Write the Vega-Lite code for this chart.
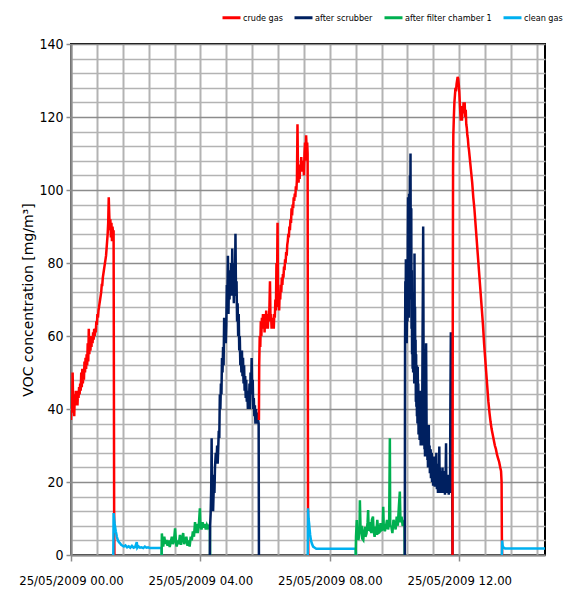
{
  "$schema": "https://vega.github.io/schema/vega-lite/v6.json",
  "width": 474,
  "height": 511,
  "autosize": {"type": "none"},
  "padding": {"left": 71, "top": 44, "right": 29, "bottom": 35},
  "background": "white",
  "config": {
    "view": {"stroke": "#000000", "strokeWidth": 2},
    "legend": {"padding": 0}
  },
  "data": {
    "values": [
      {"t":0,"s":"crude gas","g":1,"v":37},{"t":1,"s":"crude gas","g":1,"v":42},{"t":2,"s":"crude gas","g":1,"v":39},{"t":3,"s":"crude gas","g":1,"v":50},{"t":4,"s":"crude gas","g":1,"v":41},{"t":5,"s":"crude gas","g":1,"v":44},{"t":6,"s":"crude gas","g":1,"v":38},{"t":7,"s":"crude gas","g":1,"v":44},{"t":8,"s":"crude gas","g":1,"v":41},{"t":9,"s":"crude gas","g":1,"v":45},{"t":10,"s":"crude gas","g":1,"v":42},{"t":11,"s":"crude gas","g":1,"v":45},{"t":12,"s":"crude gas","g":1,"v":41},{"t":13,"s":"crude gas","g":1,"v":45},{"t":14,"s":"crude gas","g":1,"v":43},{"t":15,"s":"crude gas","g":1,"v":46},{"t":16,"s":"crude gas","g":1,"v":44},{"t":17,"s":"crude gas","g":1,"v":47},{"t":18,"s":"crude gas","g":1,"v":45},{"t":19,"s":"crude gas","g":1,"v":50},{"t":20,"s":"crude gas","g":1,"v":46},{"t":21,"s":"crude gas","g":1,"v":51},{"t":22,"s":"crude gas","g":1,"v":47},{"t":23,"s":"crude gas","g":1,"v":50},{"t":24,"s":"crude gas","g":1,"v":48},{"t":25,"s":"crude gas","g":1,"v":53},{"t":26,"s":"crude gas","g":1,"v":50},{"t":27,"s":"crude gas","g":1,"v":54},{"t":28,"s":"crude gas","g":1,"v":51},{"t":29,"s":"crude gas","g":1,"v":55},{"t":30,"s":"crude gas","g":1,"v":52},{"t":31,"s":"crude gas","g":1,"v":58},{"t":32,"s":"crude gas","g":1,"v":53},{"t":33,"s":"crude gas","g":1,"v":62},{"t":34,"s":"crude gas","g":1,"v":55},{"t":35,"s":"crude gas","g":1,"v":60},{"t":36,"s":"crude gas","g":1,"v":56},{"t":37,"s":"crude gas","g":1,"v":59},{"t":38,"s":"crude gas","g":1,"v":57},{"t":39,"s":"crude gas","g":1,"v":60},{"t":40,"s":"crude gas","g":1,"v":58},{"t":41,"s":"crude gas","g":1,"v":61},{"t":42,"s":"crude gas","g":1,"v":59},{"t":43,"s":"crude gas","g":1,"v":62},{"t":44,"s":"crude gas","g":1,"v":60},{"t":45,"s":"crude gas","g":1,"v":62},{"t":46,"s":"crude gas","g":1,"v":61},{"t":47,"s":"crude gas","g":1,"v":64},{"t":48,"s":"crude gas","g":1,"v":63},{"t":49,"s":"crude gas","g":1,"v":66},{"t":50,"s":"crude gas","g":1,"v":65},{"t":51,"s":"crude gas","g":1,"v":67},{"t":52,"s":"crude gas","g":1,"v":68},{"t":53,"s":"crude gas","g":1,"v":69},{"t":54,"s":"crude gas","g":1,"v":70},{"t":55,"s":"crude gas","g":1,"v":71},{"t":56,"s":"crude gas","g":1,"v":72},{"t":57,"s":"crude gas","g":1,"v":74},{"t":58,"s":"crude gas","g":1,"v":74},{"t":59,"s":"crude gas","g":1,"v":76},{"t":60,"s":"crude gas","g":1,"v":77},{"t":61,"s":"crude gas","g":1,"v":78},{"t":62,"s":"crude gas","g":1,"v":79},{"t":63,"s":"crude gas","g":1,"v":80},{"t":64,"s":"crude gas","g":1,"v":81},{"t":65,"s":"crude gas","g":1,"v":82},{"t":66,"s":"crude gas","g":1,"v":84},{"t":67,"s":"crude gas","g":1,"v":86},{"t":68,"s":"crude gas","g":1,"v":88},{"t":69,"s":"crude gas","g":1,"v":91},{"t":70,"s":"crude gas","g":1,"v":98},{"t":71,"s":"crude gas","g":1,"v":93},{"t":72,"s":"crude gas","g":1,"v":89},{"t":73,"s":"crude gas","g":1,"v":92},{"t":74,"s":"crude gas","g":1,"v":87},{"t":75,"s":"crude gas","g":1,"v":91},{"t":76,"s":"crude gas","g":1,"v":86},{"t":77,"s":"crude gas","g":1,"v":90},{"t":78,"s":"crude gas","g":1,"v":88},{"t":79,"s":"crude gas","g":1,"v":89},{"t":80,"s":"crude gas","g":1,"v":12},{"t":80.5,"s":"crude gas","g":1,"v":0},
      {"t":78.5,"s":"clean gas","g":2,"v":0},{"t":79,"s":"clean gas","g":2,"v":11.5},{"t":80,"s":"clean gas","g":2,"v":10},{"t":81,"s":"clean gas","g":2,"v":8.5},{"t":82,"s":"clean gas","g":2,"v":7.5},{"t":83,"s":"clean gas","g":2,"v":6.5},{"t":84,"s":"clean gas","g":2,"v":5.8},{"t":85,"s":"clean gas","g":2,"v":5},{"t":86,"s":"clean gas","g":2,"v":4.5},{"t":87,"s":"clean gas","g":2,"v":4},{"t":89,"s":"clean gas","g":2,"v":3.5},{"t":91,"s":"clean gas","g":2,"v":3.2},{"t":93,"s":"clean gas","g":2,"v":2.8},{"t":95,"s":"clean gas","g":2,"v":2.6},{"t":98,"s":"clean gas","g":2,"v":2.3},{"t":101,"s":"clean gas","g":2,"v":2.6},{"t":104,"s":"clean gas","g":2,"v":2.1},{"t":107,"s":"clean gas","g":2,"v":2.4},{"t":110,"s":"clean gas","g":2,"v":2},{"t":113,"s":"clean gas","g":2,"v":2.5},{"t":116,"s":"clean gas","g":2,"v":2},{"t":119,"s":"clean gas","g":2,"v":2.2},{"t":122,"s":"clean gas","g":2,"v":3.5},{"t":123,"s":"clean gas","g":2,"v":2},{"t":125,"s":"clean gas","g":2,"v":2.4},{"t":128,"s":"clean gas","g":2,"v":2},{"t":131,"s":"clean gas","g":2,"v":2.1},{"t":134,"s":"clean gas","g":2,"v":1.9},{"t":137,"s":"clean gas","g":2,"v":2.3},{"t":140,"s":"clean gas","g":2,"v":2},{"t":143,"s":"clean gas","g":2,"v":2.1},{"t":146,"s":"clean gas","g":2,"v":1.9},{"t":150,"s":"clean gas","g":2,"v":1.9},{"t":160,"s":"clean gas","g":2,"v":1.9},{"t":168,"s":"clean gas","g":2,"v":1.9},{"t":168.5,"s":"clean gas","g":2,"v":0},
      {"t":168,"s":"after filter chamber 1","g":3,"v":0},{"t":168.5,"s":"after filter chamber 1","g":3,"v":5.9},{"t":170,"s":"after filter chamber 1","g":3,"v":3},{"t":171,"s":"after filter chamber 1","g":3,"v":2.3},{"t":173,"s":"after filter chamber 1","g":3,"v":5},{"t":175,"s":"after filter chamber 1","g":3,"v":3},{"t":177,"s":"after filter chamber 1","g":3,"v":4.1},{"t":179,"s":"after filter chamber 1","g":3,"v":2.5},{"t":181,"s":"after filter chamber 1","g":3,"v":4},{"t":183,"s":"after filter chamber 1","g":3,"v":2.2},{"t":185,"s":"after filter chamber 1","g":3,"v":3.5},{"t":187,"s":"after filter chamber 1","g":3,"v":5},{"t":189,"s":"after filter chamber 1","g":3,"v":3},{"t":191,"s":"after filter chamber 1","g":3,"v":4},{"t":193,"s":"after filter chamber 1","g":3,"v":7.3},{"t":195,"s":"after filter chamber 1","g":3,"v":3},{"t":196,"s":"after filter chamber 1","g":3,"v":2.3},{"t":198,"s":"after filter chamber 1","g":3,"v":4},{"t":200,"s":"after filter chamber 1","g":3,"v":3},{"t":202,"s":"after filter chamber 1","g":3,"v":5.5},{"t":204,"s":"after filter chamber 1","g":3,"v":2.8},{"t":206,"s":"after filter chamber 1","g":3,"v":4.5},{"t":208,"s":"after filter chamber 1","g":3,"v":6},{"t":210,"s":"after filter chamber 1","g":3,"v":3},{"t":212,"s":"after filter chamber 1","g":3,"v":4},{"t":214,"s":"after filter chamber 1","g":3,"v":5},{"t":216,"s":"after filter chamber 1","g":3,"v":2.5},{"t":218,"s":"after filter chamber 1","g":3,"v":4},{"t":220,"s":"after filter chamber 1","g":3,"v":2.3},{"t":222,"s":"after filter chamber 1","g":3,"v":5},{"t":224,"s":"after filter chamber 1","g":3,"v":4},{"t":226,"s":"after filter chamber 1","g":3,"v":6.5},{"t":228,"s":"after filter chamber 1","g":3,"v":5},{"t":230,"s":"after filter chamber 1","g":3,"v":9},{"t":231,"s":"after filter chamber 1","g":3,"v":6},{"t":233,"s":"after filter chamber 1","g":3,"v":8.5},{"t":235,"s":"after filter chamber 1","g":3,"v":6},{"t":237,"s":"after filter chamber 1","g":3,"v":8},{"t":239,"s":"after filter chamber 1","g":3,"v":12.8},{"t":240,"s":"after filter chamber 1","g":3,"v":8},{"t":242,"s":"after filter chamber 1","g":3,"v":7},{"t":244,"s":"after filter chamber 1","g":3,"v":9},{"t":246,"s":"after filter chamber 1","g":3,"v":7.5},{"t":248,"s":"after filter chamber 1","g":3,"v":8.5},{"t":250,"s":"after filter chamber 1","g":3,"v":7},{"t":252,"s":"after filter chamber 1","g":3,"v":8.2},{"t":254,"s":"after filter chamber 1","g":3,"v":7.5},{"t":256,"s":"after filter chamber 1","g":3,"v":8},{"t":257.5,"s":"after filter chamber 1","g":3,"v":7.5},{"t":258,"s":"after filter chamber 1","g":3,"v":0},
      {"t":257.5,"s":"after scrubber","g":4,"v":0},{"t":258,"s":"after scrubber","g":4,"v":8},{"t":259,"s":"after scrubber","g":4,"v":11.5},{"t":260,"s":"after scrubber","g":4,"v":18},{"t":260.8,"s":"after scrubber","g":4,"v":32},{"t":261.5,"s":"after scrubber","g":4,"v":14},{"t":262.5,"s":"after scrubber","g":4,"v":22},{"t":263.5,"s":"after scrubber","g":4,"v":12},{"t":265,"s":"after scrubber","g":4,"v":20},{"t":266,"s":"after scrubber","g":4,"v":17},{"t":267,"s":"after scrubber","g":4,"v":24},{"t":268.5,"s":"after scrubber","g":4,"v":28},{"t":270,"s":"after scrubber","g":4,"v":26},{"t":271,"s":"after scrubber","g":4,"v":30},{"t":272,"s":"after scrubber","g":4,"v":25},{"t":273,"s":"after scrubber","g":4,"v":29},{"t":274,"s":"after scrubber","g":4,"v":34},{"t":275,"s":"after scrubber","g":4,"v":32},{"t":276,"s":"after scrubber","g":4,"v":44},{"t":277,"s":"after scrubber","g":4,"v":40},{"t":278,"s":"after scrubber","g":4,"v":47},{"t":279,"s":"after scrubber","g":4,"v":44},{"t":280,"s":"after scrubber","g":4,"v":54},{"t":281,"s":"after scrubber","g":4,"v":50},{"t":282,"s":"after scrubber","g":4,"v":57},{"t":283,"s":"after scrubber","g":4,"v":52},{"t":284,"s":"after scrubber","g":4,"v":65},{"t":285,"s":"after scrubber","g":4,"v":60},{"t":286,"s":"after scrubber","g":4,"v":64},{"t":287,"s":"after scrubber","g":4,"v":58},{"t":288,"s":"after scrubber","g":4,"v":63},{"t":289,"s":"after scrubber","g":4,"v":74},{"t":290,"s":"after scrubber","g":4,"v":70},{"t":291,"s":"after scrubber","g":4,"v":82},{"t":292,"s":"after scrubber","g":4,"v":66},{"t":293,"s":"after scrubber","g":4,"v":76},{"t":294,"s":"after scrubber","g":4,"v":70},{"t":295,"s":"after scrubber","g":4,"v":78},{"t":296,"s":"after scrubber","g":4,"v":73},{"t":297,"s":"after scrubber","g":4,"v":80},{"t":298,"s":"after scrubber","g":4,"v":71},{"t":299,"s":"after scrubber","g":4,"v":84},{"t":300,"s":"after scrubber","g":4,"v":75},{"t":301,"s":"after scrubber","g":4,"v":79},{"t":302,"s":"after scrubber","g":4,"v":69},{"t":303,"s":"after scrubber","g":4,"v":80},{"t":304,"s":"after scrubber","g":4,"v":73},{"t":305,"s":"after scrubber","g":4,"v":88},{"t":306,"s":"after scrubber","g":4,"v":71},{"t":307,"s":"after scrubber","g":4,"v":75},{"t":308,"s":"after scrubber","g":4,"v":64},{"t":309,"s":"after scrubber","g":4,"v":69},{"t":310,"s":"after scrubber","g":4,"v":60},{"t":311,"s":"after scrubber","g":4,"v":66},{"t":312,"s":"after scrubber","g":4,"v":56},{"t":313,"s":"after scrubber","g":4,"v":60},{"t":314,"s":"after scrubber","g":4,"v":52},{"t":315,"s":"after scrubber","g":4,"v":55},{"t":316,"s":"after scrubber","g":4,"v":50},{"t":317,"s":"after scrubber","g":4,"v":56},{"t":318,"s":"after scrubber","g":4,"v":49},{"t":319,"s":"after scrubber","g":4,"v":54},{"t":320,"s":"after scrubber","g":4,"v":47},{"t":321,"s":"after scrubber","g":4,"v":52},{"t":322,"s":"after scrubber","g":4,"v":45},{"t":323,"s":"after scrubber","g":4,"v":49},{"t":324,"s":"after scrubber","g":4,"v":43},{"t":325,"s":"after scrubber","g":4,"v":48},{"t":326,"s":"after scrubber","g":4,"v":42},{"t":327,"s":"after scrubber","g":4,"v":45},{"t":328,"s":"after scrubber","g":4,"v":40},{"t":329,"s":"after scrubber","g":4,"v":44},{"t":330,"s":"after scrubber","g":4,"v":41},{"t":331,"s":"after scrubber","g":4,"v":47},{"t":332,"s":"after scrubber","g":4,"v":40},{"t":333,"s":"after scrubber","g":4,"v":50},{"t":334,"s":"after scrubber","g":4,"v":45},{"t":335,"s":"after scrubber","g":4,"v":54},{"t":336,"s":"after scrubber","g":4,"v":44},{"t":337,"s":"after scrubber","g":4,"v":48},{"t":338,"s":"after scrubber","g":4,"v":40},{"t":339,"s":"after scrubber","g":4,"v":43},{"t":340,"s":"after scrubber","g":4,"v":38},{"t":341,"s":"after scrubber","g":4,"v":41},{"t":342,"s":"after scrubber","g":4,"v":36},{"t":343,"s":"after scrubber","g":4,"v":40},{"t":344,"s":"after scrubber","g":4,"v":37},{"t":345,"s":"after scrubber","g":4,"v":39},{"t":346,"s":"after scrubber","g":4,"v":36},{"t":347,"s":"after scrubber","g":4,"v":37},{"t":348,"s":"after scrubber","g":4,"v":36},{"t":348.5,"s":"after scrubber","g":4,"v":0},
      {"t":348.5,"s":"crude gas","g":5,"v":37},{"t":349,"s":"crude gas","g":5,"v":52},{"t":350,"s":"crude gas","g":5,"v":60},{"t":351,"s":"crude gas","g":5,"v":57},{"t":352,"s":"crude gas","g":5,"v":64},{"t":353,"s":"crude gas","g":5,"v":60},{"t":354,"s":"crude gas","g":5,"v":65},{"t":355,"s":"crude gas","g":5,"v":62},{"t":356,"s":"crude gas","g":5,"v":66},{"t":357,"s":"crude gas","g":5,"v":63},{"t":358,"s":"crude gas","g":5,"v":65},{"t":359,"s":"crude gas","g":5,"v":61},{"t":360,"s":"crude gas","g":5,"v":66},{"t":361,"s":"crude gas","g":5,"v":62},{"t":362,"s":"crude gas","g":5,"v":67},{"t":363,"s":"crude gas","g":5,"v":63},{"t":364,"s":"crude gas","g":5,"v":65},{"t":365,"s":"crude gas","g":5,"v":62},{"t":366,"s":"crude gas","g":5,"v":66},{"t":367,"s":"crude gas","g":5,"v":64},{"t":368,"s":"crude gas","g":5,"v":68},{"t":369,"s":"crude gas","g":5,"v":75},{"t":370,"s":"crude gas","g":5,"v":64},{"t":371,"s":"crude gas","g":5,"v":66},{"t":372,"s":"crude gas","g":5,"v":62},{"t":373,"s":"crude gas","g":5,"v":65},{"t":374,"s":"crude gas","g":5,"v":63},{"t":375,"s":"crude gas","g":5,"v":64},{"t":376,"s":"crude gas","g":5,"v":62},{"t":377,"s":"crude gas","g":5,"v":66},{"t":378,"s":"crude gas","g":5,"v":65},{"t":379,"s":"crude gas","g":5,"v":70},{"t":380,"s":"crude gas","g":5,"v":67},{"t":381,"s":"crude gas","g":5,"v":80},{"t":382,"s":"crude gas","g":5,"v":72},{"t":383,"s":"crude gas","g":5,"v":91},{"t":384,"s":"crude gas","g":5,"v":68},{"t":385,"s":"crude gas","g":5,"v":70},{"t":386,"s":"crude gas","g":5,"v":67},{"t":387,"s":"crude gas","g":5,"v":72},{"t":388,"s":"crude gas","g":5,"v":70},{"t":389,"s":"crude gas","g":5,"v":74},{"t":390,"s":"crude gas","g":5,"v":72},{"t":391,"s":"crude gas","g":5,"v":76},{"t":392,"s":"crude gas","g":5,"v":74},{"t":393,"s":"crude gas","g":5,"v":77},{"t":394,"s":"crude gas","g":5,"v":76},{"t":395,"s":"crude gas","g":5,"v":79},{"t":396,"s":"crude gas","g":5,"v":78},{"t":397,"s":"crude gas","g":5,"v":81},{"t":398,"s":"crude gas","g":5,"v":80},{"t":399,"s":"crude gas","g":5,"v":83},{"t":400,"s":"crude gas","g":5,"v":82},{"t":401,"s":"crude gas","g":5,"v":85},{"t":402,"s":"crude gas","g":5,"v":86},{"t":403,"s":"crude gas","g":5,"v":88},{"t":404,"s":"crude gas","g":5,"v":87},{"t":405,"s":"crude gas","g":5,"v":90},{"t":406,"s":"crude gas","g":5,"v":89},{"t":407,"s":"crude gas","g":5,"v":92},{"t":408,"s":"crude gas","g":5,"v":91},{"t":409,"s":"crude gas","g":5,"v":95},{"t":410,"s":"crude gas","g":5,"v":93},{"t":411,"s":"crude gas","g":5,"v":96},{"t":412,"s":"crude gas","g":5,"v":95},{"t":413,"s":"crude gas","g":5,"v":98},{"t":414,"s":"crude gas","g":5,"v":97},{"t":415,"s":"crude gas","g":5,"v":99},{"t":416,"s":"crude gas","g":5,"v":98},{"t":417,"s":"crude gas","g":5,"v":101},{"t":418,"s":"crude gas","g":5,"v":100},{"t":419,"s":"crude gas","g":5,"v":103},{"t":420,"s":"crude gas","g":5,"v":118},{"t":421,"s":"crude gas","g":5,"v":104},{"t":422,"s":"crude gas","g":5,"v":102},{"t":423,"s":"crude gas","g":5,"v":105},{"t":424,"s":"crude gas","g":5,"v":103},{"t":425,"s":"crude gas","g":5,"v":107},{"t":426,"s":"crude gas","g":5,"v":105},{"t":427,"s":"crude gas","g":5,"v":109},{"t":428,"s":"crude gas","g":5,"v":106},{"t":429,"s":"crude gas","g":5,"v":108},{"t":430,"s":"crude gas","g":5,"v":105},{"t":431,"s":"crude gas","g":5,"v":107},{"t":432,"s":"crude gas","g":5,"v":104},{"t":433,"s":"crude gas","g":5,"v":110},{"t":434,"s":"crude gas","g":5,"v":113},{"t":435,"s":"crude gas","g":5,"v":108},{"t":436,"s":"crude gas","g":5,"v":115},{"t":437,"s":"crude gas","g":5,"v":111},{"t":438,"s":"crude gas","g":5,"v":113},{"t":438.8,"s":"crude gas","g":5,"v":110},{"t":439.5,"s":"crude gas","g":5,"v":12},{"t":440,"s":"crude gas","g":5,"v":0},
      {"t":439,"s":"clean gas","g":6,"v":0},{"t":439.5,"s":"clean gas","g":6,"v":12.8},{"t":440.5,"s":"clean gas","g":6,"v":10},{"t":441.5,"s":"clean gas","g":6,"v":8.7},{"t":442.5,"s":"clean gas","g":6,"v":7},{"t":443.5,"s":"clean gas","g":6,"v":5.5},{"t":445,"s":"clean gas","g":6,"v":4},{"t":447,"s":"clean gas","g":6,"v":3},{"t":449,"s":"clean gas","g":6,"v":2.3},{"t":452,"s":"clean gas","g":6,"v":2},{"t":455,"s":"clean gas","g":6,"v":1.7},{"t":470,"s":"clean gas","g":6,"v":1.7},{"t":490,"s":"clean gas","g":6,"v":1.7},{"t":510,"s":"clean gas","g":6,"v":1.7},{"t":528,"s":"clean gas","g":6,"v":1.7},{"t":528.5,"s":"clean gas","g":6,"v":0},
      {"t":528,"s":"after filter chamber 1","g":7,"v":0},{"t":528.5,"s":"after filter chamber 1","g":7,"v":5},{"t":530,"s":"after filter chamber 1","g":7,"v":9.6},{"t":531,"s":"after filter chamber 1","g":7,"v":5},{"t":532,"s":"after filter chamber 1","g":7,"v":7},{"t":533,"s":"after filter chamber 1","g":7,"v":4.1},{"t":535,"s":"after filter chamber 1","g":7,"v":6},{"t":535.7,"s":"after filter chamber 1","g":7,"v":15},{"t":537,"s":"after filter chamber 1","g":7,"v":6.8},{"t":539,"s":"after filter chamber 1","g":7,"v":8},{"t":540,"s":"after filter chamber 1","g":7,"v":4.5},{"t":542,"s":"after filter chamber 1","g":7,"v":4.1},{"t":543,"s":"after filter chamber 1","g":7,"v":6},{"t":545,"s":"after filter chamber 1","g":7,"v":7.7},{"t":546,"s":"after filter chamber 1","g":7,"v":5},{"t":548,"s":"after filter chamber 1","g":7,"v":5.9},{"t":550,"s":"after filter chamber 1","g":7,"v":9},{"t":551,"s":"after filter chamber 1","g":7,"v":12.3},{"t":552,"s":"after filter chamber 1","g":7,"v":7},{"t":554,"s":"after filter chamber 1","g":7,"v":6.8},{"t":555,"s":"after filter chamber 1","g":7,"v":9},{"t":557,"s":"after filter chamber 1","g":7,"v":6},{"t":558,"s":"after filter chamber 1","g":7,"v":9.6},{"t":560,"s":"after filter chamber 1","g":7,"v":10.5},{"t":561,"s":"after filter chamber 1","g":7,"v":7},{"t":563,"s":"after filter chamber 1","g":7,"v":5},{"t":565,"s":"after filter chamber 1","g":7,"v":7.8},{"t":566,"s":"after filter chamber 1","g":7,"v":5.5},{"t":568,"s":"after filter chamber 1","g":7,"v":9.6},{"t":570,"s":"after filter chamber 1","g":7,"v":6},{"t":572,"s":"after filter chamber 1","g":7,"v":6.2},{"t":574,"s":"after filter chamber 1","g":7,"v":8.7},{"t":576,"s":"after filter chamber 1","g":7,"v":6.8},{"t":578,"s":"after filter chamber 1","g":7,"v":7},{"t":579,"s":"after filter chamber 1","g":7,"v":13.2},{"t":580,"s":"after filter chamber 1","g":7,"v":7.8},{"t":582,"s":"after filter chamber 1","g":7,"v":6.5},{"t":584,"s":"after filter chamber 1","g":7,"v":7.8},{"t":586,"s":"after filter chamber 1","g":7,"v":9.6},{"t":588,"s":"after filter chamber 1","g":7,"v":7},{"t":590,"s":"after filter chamber 1","g":7,"v":9},{"t":591.3,"s":"after filter chamber 1","g":7,"v":32},{"t":592,"s":"after filter chamber 1","g":7,"v":8},{"t":594,"s":"after filter chamber 1","g":7,"v":7.8},{"t":596,"s":"after filter chamber 1","g":7,"v":6},{"t":598,"s":"after filter chamber 1","g":7,"v":9.6},{"t":600,"s":"after filter chamber 1","g":7,"v":8.7},{"t":602,"s":"after filter chamber 1","g":7,"v":7},{"t":604,"s":"after filter chamber 1","g":7,"v":10.5},{"t":606,"s":"after filter chamber 1","g":7,"v":8},{"t":608,"s":"after filter chamber 1","g":7,"v":13.2},{"t":609.8,"s":"after filter chamber 1","g":7,"v":17.4},{"t":611,"s":"after filter chamber 1","g":7,"v":9},{"t":613,"s":"after filter chamber 1","g":7,"v":10.5},{"t":615,"s":"after filter chamber 1","g":7,"v":8},{"t":617,"s":"after filter chamber 1","g":7,"v":9},{"t":618.5,"s":"after filter chamber 1","g":7,"v":8.7},{"t":619,"s":"after filter chamber 1","g":7,"v":0},
      {"t":619,"s":"after scrubber","g":8,"v":0},{"t":619.5,"s":"after scrubber","g":8,"v":58},{"t":620,"s":"after scrubber","g":8,"v":75},{"t":620.5,"s":"after scrubber","g":8,"v":60},{"t":621,"s":"after scrubber","g":8,"v":81},{"t":621.5,"s":"after scrubber","g":8,"v":62},{"t":622,"s":"after scrubber","g":8,"v":75},{"t":622.5,"s":"after scrubber","g":8,"v":58},{"t":623,"s":"after scrubber","g":8,"v":66},{"t":623.5,"s":"after scrubber","g":8,"v":78},{"t":624,"s":"after scrubber","g":8,"v":64},{"t":624.5,"s":"after scrubber","g":8,"v":85},{"t":625,"s":"after scrubber","g":8,"v":98},{"t":625.5,"s":"after scrubber","g":8,"v":72},{"t":626,"s":"after scrubber","g":8,"v":88},{"t":626.5,"s":"after scrubber","g":8,"v":65},{"t":627,"s":"after scrubber","g":8,"v":99},{"t":627.5,"s":"after scrubber","g":8,"v":80},{"t":628,"s":"after scrubber","g":8,"v":75},{"t":628.5,"s":"after scrubber","g":8,"v":104},{"t":629,"s":"after scrubber","g":8,"v":90},{"t":629.6,"s":"after scrubber","g":8,"v":110},{"t":630,"s":"after scrubber","g":8,"v":84},{"t":630.5,"s":"after scrubber","g":8,"v":70},{"t":631,"s":"after scrubber","g":8,"v":95},{"t":631.5,"s":"after scrubber","g":8,"v":62},{"t":632,"s":"after scrubber","g":8,"v":78},{"t":632.5,"s":"after scrubber","g":8,"v":55},{"t":633,"s":"after scrubber","g":8,"v":68},{"t":633.5,"s":"after scrubber","g":8,"v":51},{"t":634,"s":"after scrubber","g":8,"v":62},{"t":634.5,"s":"after scrubber","g":8,"v":50},{"t":635,"s":"after scrubber","g":8,"v":72},{"t":635.5,"s":"after scrubber","g":8,"v":58},{"t":636,"s":"after scrubber","g":8,"v":64},{"t":636.5,"s":"after scrubber","g":8,"v":47},{"t":637,"s":"after scrubber","g":8,"v":82.6},{"t":637.5,"s":"after scrubber","g":8,"v":55},{"t":638,"s":"after scrubber","g":8,"v":68},{"t":638.5,"s":"after scrubber","g":8,"v":47},{"t":639,"s":"after scrubber","g":8,"v":59},{"t":639.5,"s":"after scrubber","g":8,"v":42},{"t":640,"s":"after scrubber","g":8,"v":55},{"t":640.5,"s":"after scrubber","g":8,"v":40.6},{"t":641,"s":"after scrubber","g":8,"v":52},{"t":641.5,"s":"after scrubber","g":8,"v":38},{"t":642,"s":"after scrubber","g":8,"v":48},{"t":642.5,"s":"after scrubber","g":8,"v":36},{"t":643,"s":"after scrubber","g":8,"v":51.6},{"t":643.5,"s":"after scrubber","g":8,"v":40},{"t":644,"s":"after scrubber","g":8,"v":47},{"t":644.5,"s":"after scrubber","g":8,"v":33},{"t":645,"s":"after scrubber","g":8,"v":44},{"t":645.5,"s":"after scrubber","g":8,"v":35},{"t":646,"s":"after scrubber","g":8,"v":42},{"t":646.5,"s":"after scrubber","g":8,"v":31.5},{"t":647,"s":"after scrubber","g":8,"v":45},{"t":647.5,"s":"after scrubber","g":8,"v":34},{"t":648,"s":"after scrubber","g":8,"v":40},{"t":648.5,"s":"after scrubber","g":8,"v":30},{"t":649,"s":"after scrubber","g":8,"v":38},{"t":649.5,"s":"after scrubber","g":8,"v":42.5},{"t":650,"s":"after scrubber","g":8,"v":34},{"t":650.5,"s":"after scrubber","g":8,"v":38},{"t":651,"s":"after scrubber","g":8,"v":30},{"t":651.5,"s":"after scrubber","g":8,"v":45},{"t":652,"s":"after scrubber","g":8,"v":60},{"t":652.5,"s":"after scrubber","g":8,"v":72},{"t":653.1,"s":"after scrubber","g":8,"v":90},{"t":653.6,"s":"after scrubber","g":8,"v":65},{"t":654,"s":"after scrubber","g":8,"v":40},{"t":654.5,"s":"after scrubber","g":8,"v":34},{"t":655,"s":"after scrubber","g":8,"v":38},{"t":655.5,"s":"after scrubber","g":8,"v":29},{"t":656,"s":"after scrubber","g":8,"v":33},{"t":656.5,"s":"after scrubber","g":8,"v":27},{"t":657,"s":"after scrubber","g":8,"v":31},{"t":657.5,"s":"after scrubber","g":8,"v":40},{"t":658,"s":"after scrubber","g":8,"v":48},{"t":658.5,"s":"after scrubber","g":8,"v":58},{"t":659,"s":"after scrubber","g":8,"v":45},{"t":659.5,"s":"after scrubber","g":8,"v":32},{"t":660,"s":"after scrubber","g":8,"v":28},{"t":660.5,"s":"after scrubber","g":8,"v":34},{"t":661,"s":"after scrubber","g":8,"v":26},{"t":661.5,"s":"after scrubber","g":8,"v":30},{"t":662,"s":"after scrubber","g":8,"v":24},{"t":662.5,"s":"after scrubber","g":8,"v":31},{"t":663,"s":"after scrubber","g":8,"v":26},{"t":663.5,"s":"after scrubber","g":8,"v":35.6},{"t":664,"s":"after scrubber","g":8,"v":27},{"t":664.5,"s":"after scrubber","g":8,"v":24},{"t":665,"s":"after scrubber","g":8,"v":30},{"t":665.5,"s":"after scrubber","g":8,"v":22.4},{"t":666,"s":"after scrubber","g":8,"v":27},{"t":666.5,"s":"after scrubber","g":8,"v":23},{"t":667,"s":"after scrubber","g":8,"v":29},{"t":667.5,"s":"after scrubber","g":8,"v":21},{"t":668,"s":"after scrubber","g":8,"v":25},{"t":668.5,"s":"after scrubber","g":8,"v":22.4},{"t":669,"s":"after scrubber","g":8,"v":28},{"t":669.5,"s":"after scrubber","g":8,"v":20},{"t":670,"s":"after scrubber","g":8,"v":26},{"t":670.5,"s":"after scrubber","g":8,"v":21},{"t":671,"s":"after scrubber","g":8,"v":27},{"t":671.5,"s":"after scrubber","g":8,"v":19},{"t":672,"s":"after scrubber","g":8,"v":24},{"t":672.5,"s":"after scrubber","g":8,"v":20},{"t":673,"s":"after scrubber","g":8,"v":26},{"t":673.5,"s":"after scrubber","g":8,"v":19},{"t":674,"s":"after scrubber","g":8,"v":23},{"t":674.5,"s":"after scrubber","g":8,"v":18.7},{"t":675,"s":"after scrubber","g":8,"v":22},{"t":675.5,"s":"after scrubber","g":8,"v":27},{"t":676,"s":"after scrubber","g":8,"v":19},{"t":676.5,"s":"after scrubber","g":8,"v":24},{"t":677,"s":"after scrubber","g":8,"v":20},{"t":677.5,"s":"after scrubber","g":8,"v":28},{"t":678,"s":"after scrubber","g":8,"v":21},{"t":678.5,"s":"after scrubber","g":8,"v":18},{"t":679,"s":"after scrubber","g":8,"v":23},{"t":679.5,"s":"after scrubber","g":8,"v":19},{"t":680,"s":"after scrubber","g":8,"v":24},{"t":680.5,"s":"after scrubber","g":8,"v":17},{"t":681,"s":"after scrubber","g":8,"v":22},{"t":681.5,"s":"after scrubber","g":8,"v":20},{"t":682,"s":"after scrubber","g":8,"v":25},{"t":682.5,"s":"after scrubber","g":8,"v":18},{"t":683,"s":"after scrubber","g":8,"v":29.7},{"t":683.5,"s":"after scrubber","g":8,"v":21},{"t":684,"s":"after scrubber","g":8,"v":24},{"t":684.5,"s":"after scrubber","g":8,"v":17},{"t":685,"s":"after scrubber","g":8,"v":22},{"t":685.5,"s":"after scrubber","g":8,"v":19},{"t":686,"s":"after scrubber","g":8,"v":23},{"t":686.5,"s":"after scrubber","g":8,"v":17},{"t":687,"s":"after scrubber","g":8,"v":21},{"t":687.5,"s":"after scrubber","g":8,"v":18},{"t":688,"s":"after scrubber","g":8,"v":22},{"t":688.5,"s":"after scrubber","g":8,"v":17.5},{"t":689,"s":"after scrubber","g":8,"v":24},{"t":689.5,"s":"after scrubber","g":8,"v":18},{"t":690,"s":"after scrubber","g":8,"v":21},{"t":690.5,"s":"after scrubber","g":8,"v":17},{"t":691,"s":"after scrubber","g":8,"v":20},{"t":691.5,"s":"after scrubber","g":8,"v":17},{"t":692,"s":"after scrubber","g":8,"v":23},{"t":692.5,"s":"after scrubber","g":8,"v":17},{"t":693,"s":"after scrubber","g":8,"v":19},{"t":693.5,"s":"after scrubber","g":8,"v":16.5},{"t":694,"s":"after scrubber","g":8,"v":21},{"t":694.5,"s":"after scrubber","g":8,"v":18},{"t":695,"s":"after scrubber","g":8,"v":25},{"t":695.5,"s":"after scrubber","g":8,"v":30.6},{"t":696,"s":"after scrubber","g":8,"v":20},{"t":696.5,"s":"after scrubber","g":8,"v":17},{"t":697,"s":"after scrubber","g":8,"v":22},{"t":697.5,"s":"after scrubber","g":8,"v":18},{"t":698,"s":"after scrubber","g":8,"v":20},{"t":698.5,"s":"after scrubber","g":8,"v":17},{"t":699,"s":"after scrubber","g":8,"v":21},{"t":699.5,"s":"after scrubber","g":8,"v":17},{"t":700,"s":"after scrubber","g":8,"v":19},{"t":700.5,"s":"after scrubber","g":8,"v":16.5},{"t":701,"s":"after scrubber","g":8,"v":22},{"t":701.5,"s":"after scrubber","g":8,"v":18},{"t":702,"s":"after scrubber","g":8,"v":20},{"t":702.5,"s":"after scrubber","g":8,"v":17},{"t":703,"s":"after scrubber","g":8,"v":21},{"t":703.5,"s":"after scrubber","g":8,"v":40},{"t":704.4,"s":"after scrubber","g":8,"v":61},{"t":705,"s":"after scrubber","g":8,"v":35},{"t":705.5,"s":"after scrubber","g":8,"v":22},{"t":706,"s":"after scrubber","g":8,"v":18},{"t":706.5,"s":"after scrubber","g":8,"v":20},{"t":707,"s":"after scrubber","g":8,"v":17},{"t":707.5,"s":"after scrubber","g":8,"v":0},
      {"t":707.5,"s":"crude gas","g":9,"v":0},{"t":708,"s":"crude gas","g":9,"v":70},{"t":708.5,"s":"crude gas","g":9,"v":105},{"t":709,"s":"crude gas","g":9,"v":115},{"t":710,"s":"crude gas","g":9,"v":120},{"t":711,"s":"crude gas","g":9,"v":124},{"t":712,"s":"crude gas","g":9,"v":126},{"t":713,"s":"crude gas","g":9,"v":128},{"t":714,"s":"crude gas","g":9,"v":127},{"t":715,"s":"crude gas","g":9,"v":129},{"t":716,"s":"crude gas","g":9,"v":130},{"t":717,"s":"crude gas","g":9,"v":131},{"t":718,"s":"crude gas","g":9,"v":130.5},{"t":719,"s":"crude gas","g":9,"v":129},{"t":720,"s":"crude gas","g":9,"v":127},{"t":721,"s":"crude gas","g":9,"v":124},{"t":722,"s":"crude gas","g":9,"v":121},{"t":723,"s":"crude gas","g":9,"v":119},{"t":724,"s":"crude gas","g":9,"v":121},{"t":725,"s":"crude gas","g":9,"v":119},{"t":726,"s":"crude gas","g":9,"v":123},{"t":727,"s":"crude gas","g":9,"v":121},{"t":728,"s":"crude gas","g":9,"v":124},{"t":729,"s":"crude gas","g":9,"v":122},{"t":730,"s":"crude gas","g":9,"v":124},{"t":731,"s":"crude gas","g":9,"v":120},{"t":732,"s":"crude gas","g":9,"v":122},{"t":733,"s":"crude gas","g":9,"v":118},{"t":734,"s":"crude gas","g":9,"v":117},{"t":735,"s":"crude gas","g":9,"v":115},{"t":736,"s":"crude gas","g":9,"v":114},{"t":737,"s":"crude gas","g":9,"v":112},{"t":738,"s":"crude gas","g":9,"v":111},{"t":740,"s":"crude gas","g":9,"v":108},{"t":742,"s":"crude gas","g":9,"v":105},{"t":744,"s":"crude gas","g":9,"v":102},{"t":746,"s":"crude gas","g":9,"v":98},{"t":748,"s":"crude gas","g":9,"v":95},{"t":750,"s":"crude gas","g":9,"v":91},{"t":752,"s":"crude gas","g":9,"v":87},{"t":754,"s":"crude gas","g":9,"v":83},{"t":756,"s":"crude gas","g":9,"v":79},{"t":758,"s":"crude gas","g":9,"v":75},{"t":760,"s":"crude gas","g":9,"v":71},{"t":762,"s":"crude gas","g":9,"v":67},{"t":764,"s":"crude gas","g":9,"v":63},{"t":766,"s":"crude gas","g":9,"v":58},{"t":768,"s":"crude gas","g":9,"v":54},{"t":770,"s":"crude gas","g":9,"v":50},{"t":772,"s":"crude gas","g":9,"v":46},{"t":774,"s":"crude gas","g":9,"v":42},{"t":776,"s":"crude gas","g":9,"v":39},{"t":778,"s":"crude gas","g":9,"v":36.5},{"t":780,"s":"crude gas","g":9,"v":34.5},{"t":782,"s":"crude gas","g":9,"v":33},{"t":784,"s":"crude gas","g":9,"v":31.5},{"t":786,"s":"crude gas","g":9,"v":30},{"t":788,"s":"crude gas","g":9,"v":29},{"t":790,"s":"crude gas","g":9,"v":27.5},{"t":792,"s":"crude gas","g":9,"v":26.5},{"t":794,"s":"crude gas","g":9,"v":25.5},{"t":796,"s":"crude gas","g":9,"v":24},{"t":797.5,"s":"crude gas","g":9,"v":23},{"t":798.5,"s":"crude gas","g":9,"v":20},{"t":799,"s":"crude gas","g":9,"v":5},{"t":799.5,"s":"crude gas","g":9,"v":0},
      {"t":799,"s":"clean gas","g":10,"v":0},{"t":799.5,"s":"clean gas","g":10,"v":4},{"t":800.5,"s":"clean gas","g":10,"v":2.5},{"t":802,"s":"clean gas","g":10,"v":2},{"t":805,"s":"clean gas","g":10,"v":1.8},{"t":830,"s":"clean gas","g":10,"v":1.8},{"t":855,"s":"clean gas","g":10,"v":1.8},{"t":879,"s":"clean gas","g":10,"v":1.8}
    ]
  },
  "mark": {"type": "line", "strokeWidth": 2.5, "clip": true},
  "encoding": {
    "x": {
      "field": "t",
      "type": "quantitative",
      "scale": {"domain": [0, 879], "nice": false, "zero": false},
      "axis": {
        "title": null,
        "values": [0,48,96,144,192,240,288,336,384,432,480,528,576,624,672,720,768,816,864],
        "grid": true,
        "gridColor": "#b3b3b3",
        "gridWidth": 2,
        "domainColor": "#8c8c8c",
        "domainWidth": 2,
        "tickColor": "#8c8c8c",
        "tickWidth": 1.5,
        "tickSize": 6,
        "tickOpacity": {"condition": {"test": "datum.value % 240 === 0", "value": 1}, "value": 0},
        "labelExpr": "datum.value % 240 === 0 ? '25/05/2009 ' + timeFormat(datetime(2009, 4, 25, 0, datum.value), '%H.%M') : ''",
        "labelFont": "Liberation Sans Narrow, DejaVu Sans Condensed, Liberation Sans, sans-serif",
        "labelFontSize": 13,
        "labelColor": "#000000",
        "labelPadding": 13,
        "labelOverlap": false,
        "labelFlush": false,
        "labelBound": false
      }
    },
    "y": {
      "field": "v",
      "type": "quantitative",
      "scale": {"domain": [0, 140], "nice": false},
      "axis": {
        "title": "VOC concentration [mg/m³]",
        "values": [0,4,8,12,16,20,24,28,32,36,40,44,48,52,56,60,64,68,72,76,80,84,88,92,96,100,104,108,112,116,120,124,128,132,136,140],
        "grid": true,
        "gridColor": {"condition": {"test": "datum.value % 20 === 0", "value": "#8c8c8c"}, "value": "#b3b3b3"},
        "gridWidth": 1.5,
        "domainColor": "#8c8c8c",
        "domainWidth": 2,
        "tickColor": "#8c8c8c",
        "tickWidth": 1.5,
        "tickSize": 5,
        "tickOpacity": {"condition": {"test": "datum.value % 20 === 0", "value": 1}, "value": 0},
        "labelExpr": "datum.value % 20 === 0 ? datum.label : ''",
        "labelFont": "Liberation Sans Narrow, DejaVu Sans Condensed, Liberation Sans, sans-serif",
        "labelFontSize": 14,
        "labelColor": "#000000",
        "labelPadding": 3,
        "labelOverlap": false,
        "labelFlush": false,
        "titleFont": "DejaVu Sans",
        "titleFontSize": 14,
        "titleFontWeight": "normal",
        "titleColor": "#000000",
        "titlePadding": 3
      }
    },
    "color": {
      "field": "s",
      "type": "nominal",
      "scale": {
        "domain": ["crude gas", "after scrubber", "after filter chamber 1", "clean gas"],
        "range": ["#ff0000", "#002060", "#00b050", "#00b0f0"]
      },
      "legend": {
        "title": null,
        "orient": "none",
        "direction": "horizontal",
        "legendX": 150,
        "legendY": -37,
        "symbolType": "stroke",
        "symbolSize": 324,
        "symbolStrokeWidth": 3,
        "labelOffset": 1,
        "columnPadding": 5,
        "labelFont": "Liberation Sans Narrow, DejaVu Sans Condensed, Liberation Sans, sans-serif",
        "labelFontSize": 9,
        "labelColor": "#000000"
      }
    },
    "detail": {"field": "g", "type": "nominal"}
  }
}
